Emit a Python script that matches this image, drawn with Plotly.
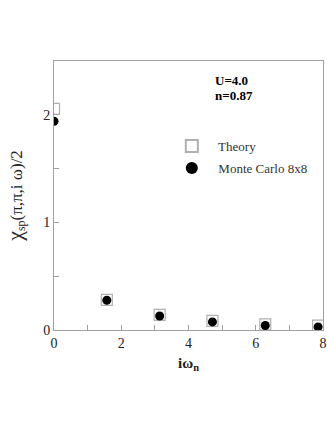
import plotly.graph_objects as go

# Matsubara frequencies i*omega_n
omega_n = [0.0, 1.571, 3.142, 4.712, 6.283, 7.854]

# spin susceptibility chi_sp(pi,pi,i omega)/2
chi_theory = [2.055, 0.28, 0.14, 0.085, 0.053, 0.04]
chi_mc = [1.94, 0.276, 0.13, 0.075, 0.042, 0.028]

font_serif = "Liberation Serif, Times New Roman, serif"
axis_gray = "#a0a0a0"

fig = go.Figure()

fig.add_trace(go.Scatter(
    x=omega_n, y=chi_theory, mode="markers",
    name="  Theory", legendgroup="th",
    marker=dict(symbol="square-open", size=11, color="#b0b0b0",
                line=dict(width=1.2, color="#b0b0b0")),
))
fig.add_trace(go.Scatter(
    x=omega_n, y=chi_mc, mode="markers",
    name="  Monte Carlo 8x8", legendgroup="mc",
    marker=dict(symbol="circle", size=9, color="black"),
))

fig.add_annotation(
    x=0.59, y=0.926, xref="paper", yref="paper",
    xanchor="left", yanchor="middle", showarrow=False,
    text="<b>U=4.0</b>",
    font=dict(family=font_serif, size=13, color="black"),
)
fig.add_annotation(
    x=0.59, y=0.870, xref="paper", yref="paper",
    xanchor="left", yanchor="middle", showarrow=False,
    text="<b>n=0.87</b>",
    font=dict(family=font_serif, size=13, color="black"),
)

fig.update_xaxes(
    range=[0, 8], dtick=2, showline=True, linecolor=axis_gray, linewidth=1,
    mirror=True, showgrid=False, zeroline=False, automargin=False,
    ticks="inside", ticklen=5, tickcolor=axis_gray,
    minor=dict(dtick=1, ticks="inside", ticklen=5, tickcolor=axis_gray, showgrid=False),
    tickfont=dict(family=font_serif, size=14, color="#222"),
    title=dict(text="<b>iω<sub>n</sub></b>", standoff=7,
               font=dict(family=font_serif, size=15, color="#222")),
)
fig.update_yaxes(
    range=[0, 2.5], dtick=1, showline=True, linecolor=axis_gray, linewidth=1,
    mirror=True, showgrid=False, zeroline=False, automargin=False,
    ticks="inside", ticklen=5, tickcolor=axis_gray,
    minor=dict(dtick=0.5, ticks="inside", ticklen=5, tickcolor=axis_gray, showgrid=False),
    tickfont=dict(family=font_serif, size=14, color="#222"),
    title=dict(text="<span style='font-size:22px'>χ</span><sub>sp</sub>(π,π,i ω)/2",
               standoff=16,
               font=dict(family=font_serif, size=17, color="#222")),
)

fig.update_layout(
    width=327, height=431,
    margin=dict(l=54, r=4, t=61, b=101),
    plot_bgcolor="white", paper_bgcolor="white",
    showlegend=True,
    legend=dict(x=0.438, y=0.643, xanchor="left", yanchor="middle",
                bgcolor="rgba(0,0,0,0)", itemsizing="constant",
                font=dict(family=font_serif, size=13, color="#333"),
                tracegroupgap=2),
)

# drop the default page margin and scrollbars so the figure fills the window
fig.write_html("out.html", config={"displayModeBar": False},
               post_script="document.body.style.margin='0';"
                           "document.body.style.overflow='hidden';")
